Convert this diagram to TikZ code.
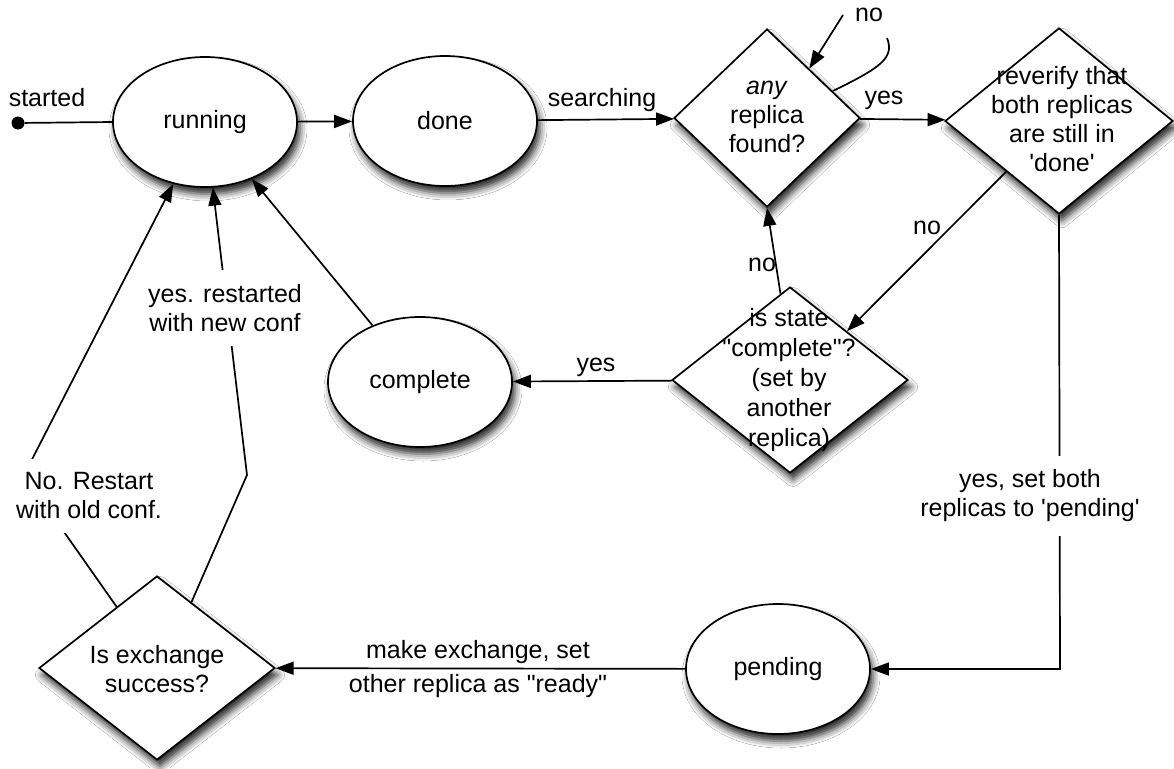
\documentclass[tikz,border=0pt]{standalone}
\usepackage{fontspec}
\setmainfont{Liberation Sans}
\usetikzlibrary{shapes.geometric,arrows.meta,shadows.blur,calc}
\newcommand\dq{\textquotedbl}
\newcommand\sq{\textquotesingle}
\begin{document}
\begin{tikzpicture}[x=1pt,y=-1pt,
  every node/.style={font=\fontsize{25}{29}\selectfont},
  shad/.style={blur shadow={shadow xshift=3pt,shadow yshift=-7pt,shadow blur radius=7pt,shadow opacity=85}},
  st/.style={ellipse,draw,line width=1.7pt,fill=white,minimum width=184pt,minimum height=130pt,inner sep=0pt,shad},
  dec/.style={diamond,draw,line width=1.7pt,fill=white,inner sep=0pt,shad},
  dtext/.style={align=center,inner sep=0pt},
  lab/.style={align=center,fill=white,inner xsep=3pt,inner ysep=14pt},
  plain/.style={align=center,inner sep=0pt},
  conn/.style={line width=1.7pt},
  arr/.style={conn,-{Triangle[length=18pt,width=13pt]}},
]
\useasboundingbox (0,0) rectangle (1174,768);
\fill[white] (0,0) rectangle (1174,768);

% nodes
\node[st] (run) at (205,122) {running};
\node[st] (done) at (445,121) {done};
\node[dec,minimum width=186pt,minimum height=178pt] (any) at (767,118) {};
\node[dtext] (anyT) at (767,117) {\textit{any}\\replica\\found?};
\node[dec,minimum width=228pt,minimum height=186pt] (rev) at (1059,121) {};
\node[dtext] (revT) at (1062,119) {reverify that\\both replicas\\are still in\\\sq done\sq};
\node[dec,minimum width=236pt,minimum height=186pt] (sta) at (790,380) {};
\node[dtext,font=\fontsize{25}{30}\selectfont] (staT) at (789,380) {is state\\\dq complete\dq?\\(set by\\another\\replica)};
\node[st] (comp) at (420,382) {complete};
\node[st] (pend) at (778,669) {pending};
\node[dec,minimum width=236pt,minimum height=184pt] (ex) at (157,668) {};
\node[dtext] (exT) at (157,669) {Is exchange\\success?};

\node[circle,fill,inner sep=0pt,minimum size=13pt] (start) at (18,123) {};
\node[plain] (startL) at (47,98) {started};

% connectors
\draw[conn] (start) -- (run.west);
\draw[arr] (run) -- (done);
\draw[arr] (done) -- (any);
\node[plain] (searchL) at (602,100) {searching};
\draw[arr] (any) -- (rev);
\node[plain] (yes1) at (884,100) {yes};

% self loop on any
\coordinate (l1) at ($(any.north)!0.7!(any.east)$);
\coordinate (l2) at (887,38);
\coordinate (l3) at (843,15);
\coordinate (l4) at ($(any.north)!0.45!(any.east)$);
\draw[conn] (l1) .. controls (880,68) and (895,58) .. (l2);
\draw[arr] (l3) -- (l4);
\node[plain] (no1) at (869,15) {no};

\draw[arr] ($(rev.west)!0.54!(rev.south)$) -- ($(sta.north)!0.48!(sta.east)$);
\node[plain] (no2) at (927,228) {no};
\draw[arr] ($(sta.north)!0.08!(sta.west)$) -- (any.south);
\node[plain] (no3) at (762,265) {no};
\draw[arr] (sta) -- (comp);
\node[plain] (yes2) at (596,367) {yes};
\draw[arr] (comp.130) -- (run);

\coordinate (c1) at (24,475);
\draw[arr] ($(ex.west)!0.66!(ex.north)$) -- (c1) -- (run);
\node[lab] (noL) at (89,496) {No. Restart\\with old conf.};
\coordinate (c2) at (247,475);
\draw[arr] ($(ex.north)!0.29!(ex.east)$) -- (c2) -- (run);
\node[lab] (yesL) at (225,308) {yes. restarted\\with new conf};

\coordinate (c3) at (1060,669);
\draw[arr] (rev.south) -- (c3) -- (pend);
\node[lab] (yesP) at (1030,496) {yes, set both\\replicas to \sq pending\sq};

\draw[arr] (pend) -- (ex);
\node[plain] (mk1) at (478,652) {make exchange, set};
\node[plain] (mk2) at (478,686) {other replica as \dq ready\dq};
\end{tikzpicture}
\end{document}
